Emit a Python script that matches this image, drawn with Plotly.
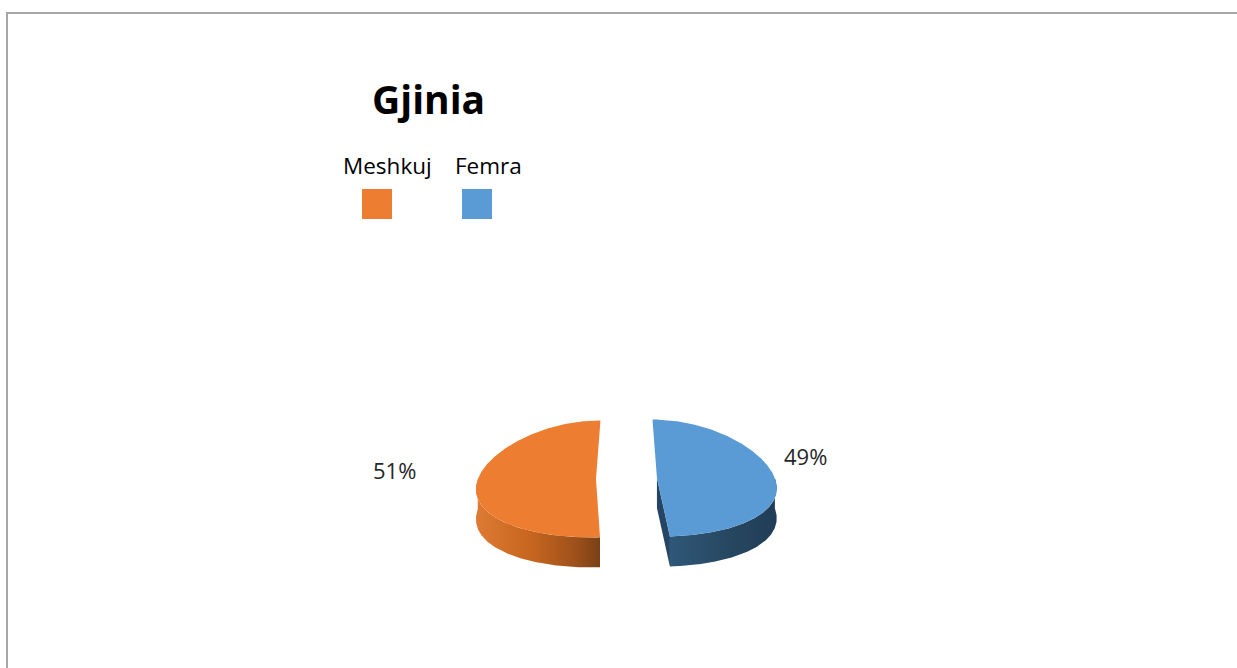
import numpy as np
import plotly.graph_objects as go

# ---- data ----
title_text = "Gjinia"
categories = ["Meshkuj", "Femra"]
values = [51, 49]

# ---- style ----
top_colors = ["#ED7D31", "#5B9BD5"]
side_scales = [
    [[0, "#DE7A33"], [0.45, "#C6651F"], [0.8, "#9E511B"], [1, "#7A4016"]],
    [[0, "#2F5778"], [0.6, "#26465F"], [1, "#213D57"]],
]
cut_colors = ["#8A4718", "#244563"]
W, H = 1237, 668
cx, cy = 626.5, 478.5     # pie centre (px)
rx, ry = 118.0, 58.5      # top ellipse radii
depth = 30.0              # extrusion
pull = 30.5               # explosion distance
persp = 0.147             # horizontal perspective strength
label_gap = [83.5, 30.5]
label_dy = [-11, -20]
font = "Open Sans"

total = float(sum(values))
fig = go.Figure()


def proj(px, pz, dz=0.0):
    """plan coords (px right, pz toward viewer, in px) -> screen"""
    f = 1.0 + persp * pz / ry
    return cx + px * f, cy + pz + dz


def rim(t, ox, oz):
    r = np.radians(t)
    return ox + rx * np.sin(r), oz - ry * np.cos(r)


slices = []
a = 0.0
for i, v in enumerate(values):
    sweep = v / total * 360.0
    a0, a1 = a, a - sweep          # counter-clockwise from 12 o'clock
    tb = (a0 + a1) / 2
    rb = np.radians(tb)
    ox = pull * np.sin(rb)
    oz = -pull * np.cos(rb) * ry / rx
    slices.append((a0, a1, tb, ox, oz))
    a = a1

# cut faces
for i, (a0, a1, tb, ox, oz) in enumerate(slices):
    m = np.array([np.sin(np.radians(tb)), -np.cos(np.radians(tb))])
    for t in (a0, a1):
        u = np.array([np.sin(np.radians(t)), -np.cos(np.radians(t))])
        n = np.array([u[1], -u[0]])
        if n @ m > 0:
            n = -n
        if n[1] > 1e-6:
            qx, qz = rim(t, ox, oz)
            sx0, sy0 = proj(ox, oz)
            sx1, sy1 = proj(qx, qz)
            xs = [sx0, sx1, sx1, sx0, sx0]
            ys = [sy0, sy1, sy1 + depth, sy0 + depth, sy0]
            fig.add_trace(go.Scatter(x=xs, y=ys, mode="lines", fill="toself",
                                     fillcolor=cut_colors[i], line=dict(width=0),
                                     hoverinfo="skip", showlegend=False))

# side walls
for i, (a0, a1, tb, ox, oz) in enumerate(slices):
    ts = np.linspace(a0, a1, 400)
    front = ts[np.cos(np.radians(ts)) <= 0]
    if len(front) < 2:
        continue
    qx, qz = rim(front, ox, oz)
    tx, ty = proj(qx, qz)
    bx, by = tx[::-1], ty[::-1] + depth
    xs = np.concatenate([tx, bx, tx[:1]])
    ys = np.concatenate([ty, by, ty[:1]])
    fig.add_trace(go.Scatter(x=xs, y=ys, mode="lines", fill="toself",
                             fillgradient=dict(type="horizontal", colorscale=side_scales[i]),
                             line=dict(width=0), hoverinfo="skip", showlegend=False))

# top faces
for i, (a0, a1, tb, ox, oz) in enumerate(slices):
    ts = np.linspace(a0, a1, 400)
    qx, qz = rim(ts, ox, oz)
    px = np.concatenate([[ox], qx, [ox]])
    pz = np.concatenate([[oz], qz, [oz]])
    xs, ys = proj(px, pz)
    fig.add_trace(go.Scatter(x=xs, y=ys, mode="lines", fill="toself",
                             fillcolor=top_colors[i], line=dict(width=0),
                             name=categories[i], hoverinfo="name", showlegend=False))

# data labels
annotations = []
for i, (a0, a1, tb, ox, oz) in enumerate(slices):
    rb = np.radians(tb)
    lx = cx + ox + (rx + label_gap[i]) * np.sin(rb)
    ly = cy + oz - ry * np.cos(rb) + label_dy[i]
    annotations.append(dict(x=lx, y=ly, xref="x", yref="y", showarrow=False,
                            text=f"{values[i] / total * 100:.0f}%",
                            font=dict(family=font, size=22, color="#262626")))

# title
annotations.append(dict(x=428.5, y=98, xref="x", yref="y", showarrow=False,
                        text=f"<b>{title_text}</b>",
                        font=dict(family=font, size=39, color="#000000")))

# custom legend (text above swatches)
leg_text_x = [387, 488]
leg_box_x = [377, 477]
shapes = []
for i, c in enumerate(categories):
    annotations.append(dict(x=leg_text_x[i], y=165, xref="x", yref="y", showarrow=False,
                            text=c, font=dict(family=font, size=22.5, color="#000000")))
    shapes.append(dict(type="rect", xref="x", yref="y",
                       x0=leg_box_x[i] - 15, x1=leg_box_x[i] + 15, y0=189, y1=219,
                       fillcolor=top_colors[i], line=dict(width=0)))

# frame
shapes.append(dict(type="path", xref="x", yref="y",
                   path=f"M 7 {H} L 7 13 L {W} 13", line=dict(color="#A6A6A6", width=2)))

fig.update_layout(
    width=W, height=H, autosize=False,
    margin=dict(l=0, r=0, t=0, b=0),
    paper_bgcolor="white", plot_bgcolor="white",
    xaxis=dict(range=[0, W], visible=False, fixedrange=True),
    yaxis=dict(range=[H, 0], visible=False, fixedrange=True),
    annotations=annotations, shapes=shapes, showlegend=False,
)

fig.write_html("out.html")
